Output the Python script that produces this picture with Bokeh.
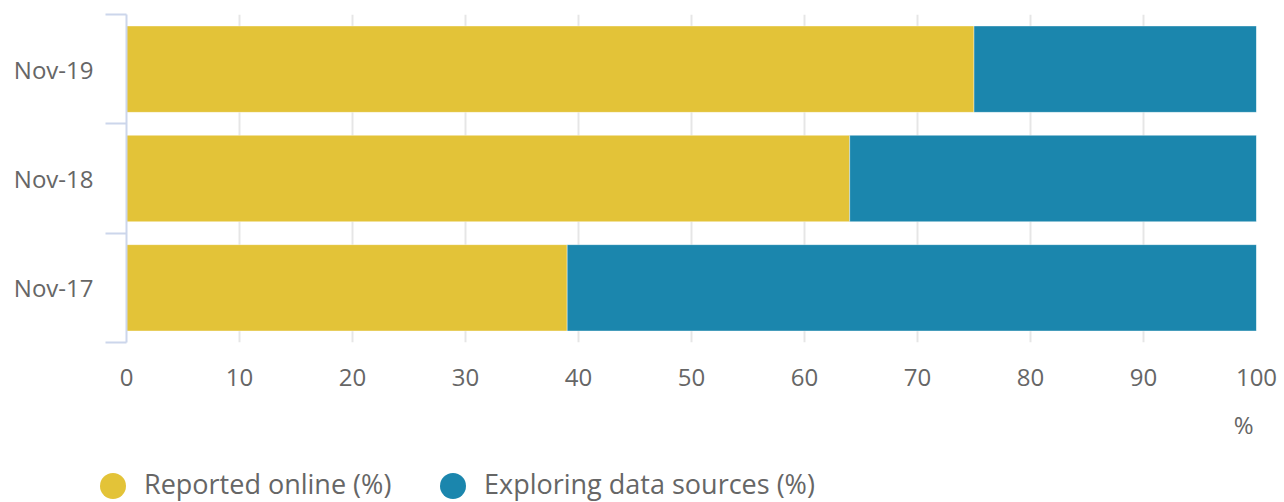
from bokeh.plotting import figure
from bokeh.models import ColumnDataSource, Range1d, FixedTicker, Title, Div
from bokeh.layouts import column
from bokeh.embed import file_html
from bokeh.resources import INLINE

# Data (top to bottom as shown)
months = ["Nov-19", "Nov-18", "Nov-17"]
reported_online = [75, 64, 39]
exploring_sources = [25, 36, 61]
x_ticks = [0, 10, 20, 30, 40, 50, 60, 70, 80, 90, 100]
series_names = ["Reported online (%)", "Exploring data sources (%)"]
colors = ["#e3c338", "#1b86ad"]

n = len(months)
pos = [n - i - 0.5 for i in range(n)]

source = ColumnDataSource(dict(
    month=months, pos=pos, reported=reported_online, exploring=exploring_sources,
))

FONT = "Open Sans"
TXT = "#666666"
W = 1284
H_PLOT = 465
H_LEG = 37

p = figure(width=W, height=H_PLOT, x_range=Range1d(0, 100), y_range=Range1d(0, n),
           output_backend="svg", toolbar_location=None,
           min_border_left=126, min_border_right=28, min_border_top=14, min_border_bottom=123)
p.outline_line_color = None
p.background_fill_color = "white"

rs = p.hbar_stack(["reported", "exploring"], y="pos", height=0.79, source=source,
                  color=colors, line_color="white", line_width=1, line_alpha=0.4)

# x axis
p.xaxis.ticker = FixedTicker(ticks=x_ticks)
p.xaxis.axis_line_color = None
p.xaxis.major_tick_line_color = None
p.xaxis.minor_tick_line_color = None
p.xaxis.major_label_text_font = FONT
p.xaxis.major_label_text_font_size = "24px"
p.xaxis.major_label_text_color = TXT
p.xaxis.major_label_standoff = 20

# y axis
p.yaxis.ticker = FixedTicker(ticks=pos, minor_ticks=[float(i) for i in range(n + 1)])
p.yaxis.major_label_overrides = {pp: m for pp, m in zip(pos, months)}
p.yaxis.axis_line_color = "#ccd6eb"
p.yaxis.axis_line_width = 2
p.yaxis.major_tick_out = 0
p.yaxis.major_tick_in = 0
p.yaxis.minor_tick_out = 21
p.yaxis.minor_tick_in = 0
p.yaxis.minor_tick_line_color = "#ccd6eb"
p.yaxis.minor_tick_line_width = 2
p.yaxis.major_label_text_font = FONT
p.yaxis.major_label_text_font_size = "24px"
p.yaxis.major_label_text_color = TXT
p.yaxis.major_label_standoff = 12

# grids
p.xgrid.grid_line_color = "#e6e6e6"
p.xgrid.grid_line_width = 2
p.ygrid.grid_line_color = None

# "%" axis title at right
p.add_layout(Title(text="%", align="right", text_font=FONT, text_font_size="24px",
                   text_color=TXT, text_font_style="normal", standoff=35, offset=3), "below")

# Legend strip below the chart
legend_left = [100, 440]   # swatch left edges (layout, px)
parts = []
for name, col, lx in zip(series_names, colors, legend_left):
    parts.append(
        f'<span style="position:absolute;left:{lx}px;top:8px;width:26px;height:26px;'
        f'border-radius:50%;background:{col};"></span>'
        f'<span style="position:absolute;left:{lx + 44}px;top:0px;white-space:nowrap;'
        f'line-height:normal;">{name}</span>'
    )
html = (f'<div style="position:relative;width:{W}px;height:{H_LEG}px;overflow:hidden;'
        f'font-family:\'{FONT}\';font-size:27px;color:{TXT};">' + "".join(parts) + '</div>')
leg = Div(text=html, width=W, height=H_LEG, margin=0)

layout = column(p, leg, spacing=0)
open("out.html", "w").write(file_html(layout, INLINE))
